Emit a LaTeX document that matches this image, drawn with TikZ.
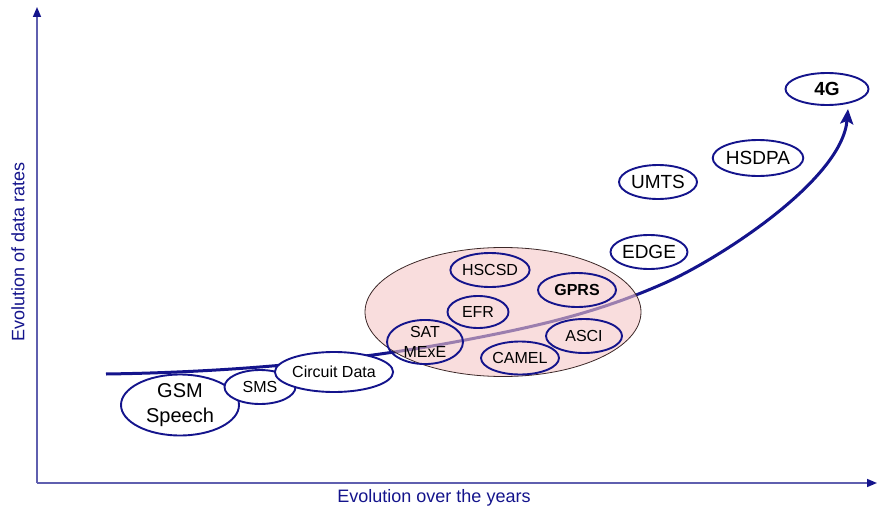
\documentclass[tikz,border=0pt]{standalone}
\usepackage{fontspec}
\setmainfont{Liberation Sans}
\usetikzlibrary{shapes.geometric,arrows.meta}
\definecolor{navy}{RGB}{20,20,140}
\definecolor{axisblue}{RGB}{95,95,175}
\definecolor{blushfill}{RGB}{245,198,198}
\definecolor{rimgrey}{RGB}{60,40,40}
\begin{document}
\begin{tikzpicture}[x=1pt,y=-1pt,
  tech/.style={ellipse,draw=navy,line width=1.9pt,inner sep=0pt,align=center,
    font=\fontsize{16}{20}\selectfont},
  solo/.style={tech,fill=white},
  axisline/.style={draw=axisblue,line width=1.6pt,-{Triangle[length=10pt,width=8pt,color=navy]}},
  axislabel/.style={text=navy,font=\fontsize{18}{20}\selectfont,inner sep=0pt},
  trend/.style={draw=navy,line width=3pt,-{Stealth[length=15pt,width=13pt,inset=3pt]}},
  cluster/.style={ellipse,draw=rimgrey,line width=0.8pt,fill=blushfill,fill opacity=0.6,inner sep=0pt}]
\useasboundingbox (0,0) rectangle (878,511);

% axes
\coordinate (origin) at (37,483);
\coordinate (ytop) at (37,7);
\coordinate (xend) at (877,483);
\draw[axisline] (origin) -- (ytop);
\draw[axisline] (origin) -- (xend);
\node[axislabel,rotate=90] (ylab) at (18,252) {Evolution of data rates};
\node[axislabel] (xlab) at (434,498) {Evolution over the years};

% growth curve
\coordinate (start) at (106,374);
\coordinate (knee) at (460,341);
\coordinate (rise) at (667,282);
\coordinate (tip) at (848,109);
\draw[trend] (start) .. controls (250,372) and (370,358) .. (knee)
  .. controls (540,326) and (600,312) .. (rise)
  .. controls (720,258) and (842,180) .. (tip);

% shaded group of GSM phase 2+ features
\node[cluster,minimum width=276pt,minimum height=129pt] (group) at (503,312) {};

\node[tech,minimum width=76pt,minimum height=34pt] (hscsd) at (490,270) {HSCSD};
\node[tech,minimum width=78pt,minimum height=34pt,font=\fontsize{16}{20}\selectfont\bfseries] (gprs) at (577,290) {GPRS};
\node[tech,minimum width=61pt,minimum height=32pt] (efr) at (478,312) {EFR};
\node[tech,minimum width=76pt,minimum height=44pt] (sat) at (425,342) {SAT\\MExE};
\node[tech,minimum width=76pt,minimum height=34pt] (asci) at (584,336) {ASCI};
\node[tech,minimum width=77pt,minimum height=33pt] (camel) at (520,358) {CAMEL};

% early GSM services
\node[solo,minimum width=118pt,minimum height=60pt,font=\fontsize{20}{25}\selectfont] (gsm) at (180,405) {GSM\\Speech};
\node[solo,minimum width=71pt,minimum height=34pt] (sms) at (260,387) {SMS};
\node[solo,minimum width=102pt,minimum height=40pt,font=\fontsize{16}{18}\selectfont] (circuit) at (334,372) {Circuit Data};

% later generations
\node[solo,minimum width=77pt,minimum height=34pt,font=\fontsize{19}{22}\selectfont] (edge) at (649,252) {EDGE};
\node[solo,minimum width=78pt,minimum height=34pt,font=\fontsize{19}{22}\selectfont] (umts) at (658,182) {UMTS};
\node[solo,minimum width=84pt,minimum height=36pt,font=\fontsize{19}{22}\selectfont] (hsdpa) at (758,158) {HSDPA};
\node[solo,minimum width=83pt,minimum height=32pt,font=\fontsize{19}{22}\selectfont\bfseries] (fourg) at (827,89) {4G};
\end{tikzpicture}
\end{document}
